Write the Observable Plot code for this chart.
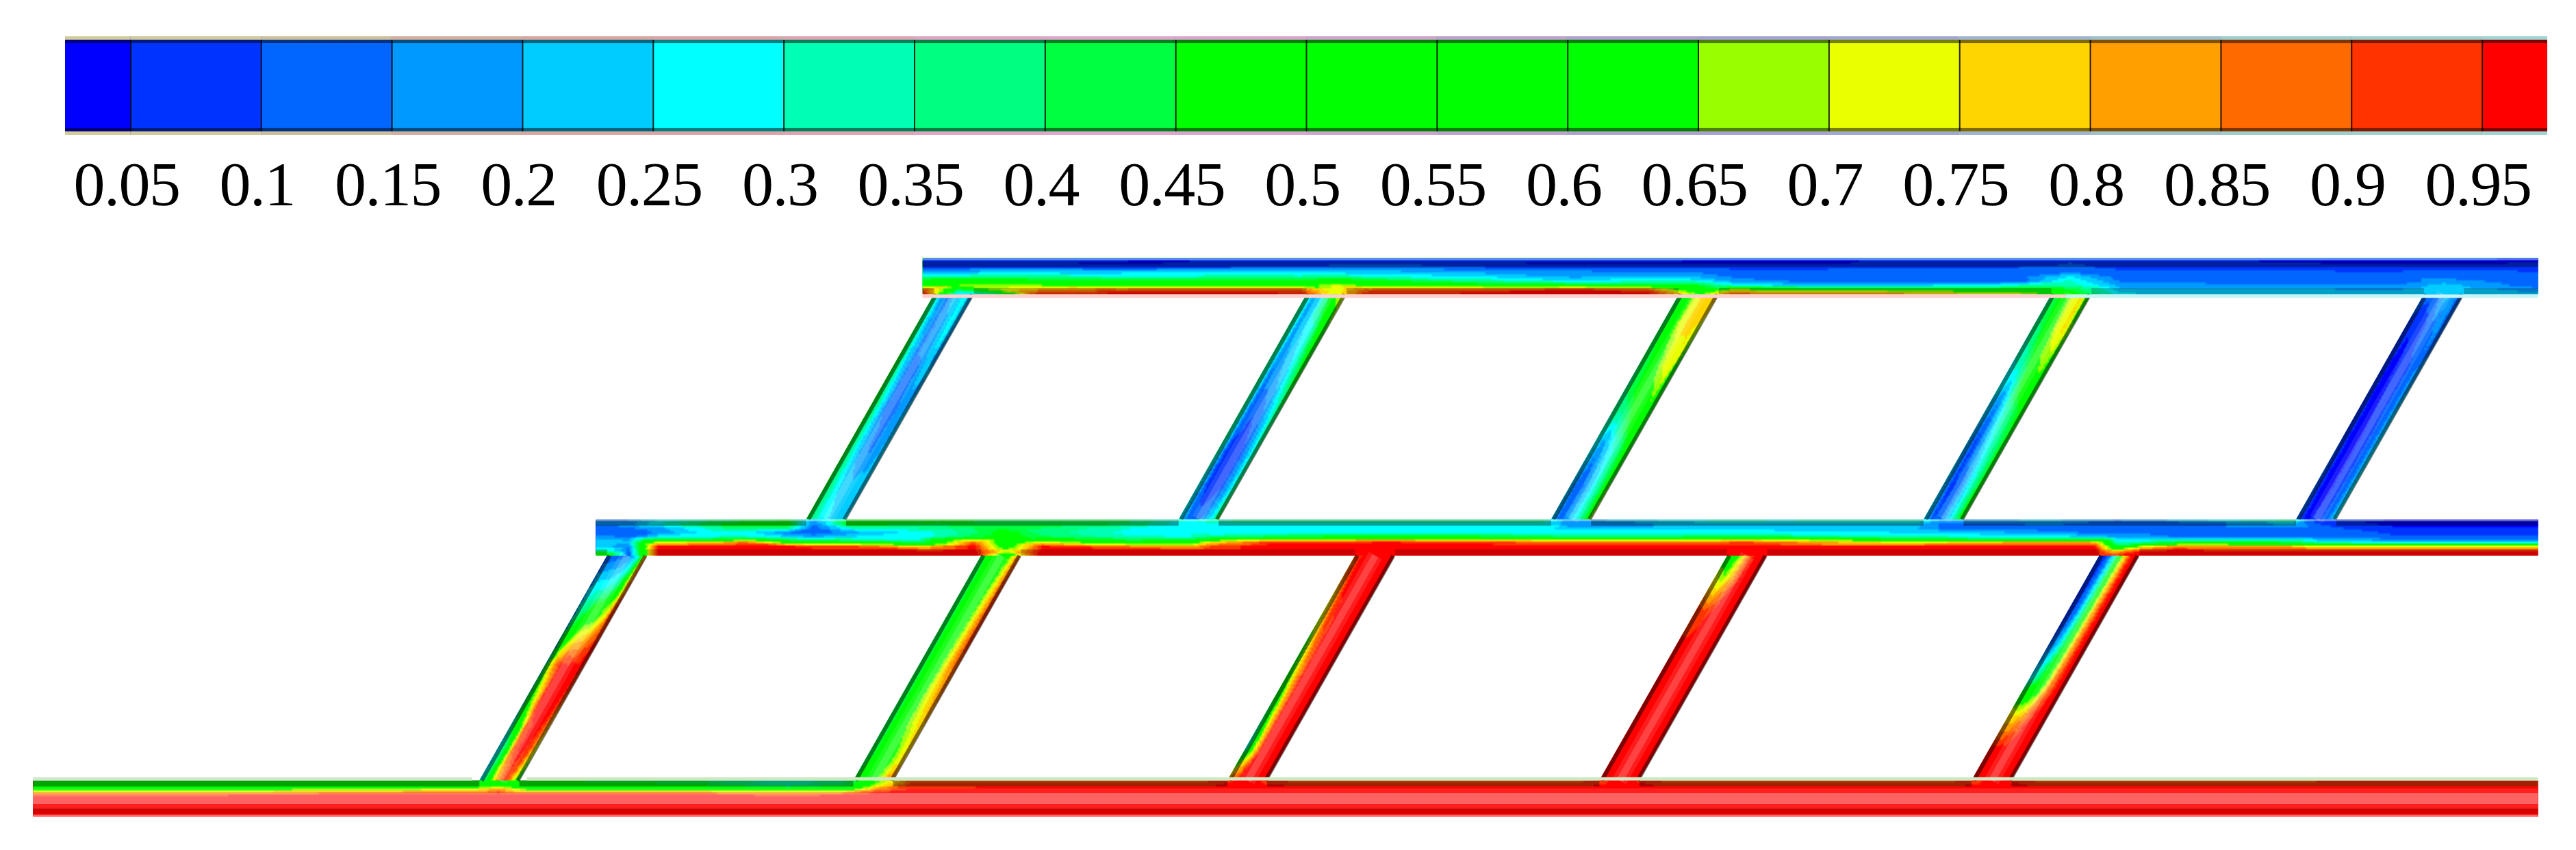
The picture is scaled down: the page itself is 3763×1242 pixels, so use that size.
<!DOCTYPE html>
<html><head><meta charset="utf-8">
<script src="https://cdn.jsdelivr.net/npm/d3@7"></script>
<script src="https://cdn.jsdelivr.net/npm/@observablehq/plot@0.6"></script>
<style>html,body{margin:0;padding:0;background:#fff}svg{display:block;max-width:none!important;background:#fff}svg text{letter-spacing:-1.5px}</style>
</head><body><script>
// ---- colour legend ----
const levels=[0.05,0.1,0.15,0.2,0.25,0.3,0.35,0.4,0.45,0.5,0.55,0.6,0.65,0.7,0.75,0.8,0.85,0.9,0.95];
const palette=["#0000ff","#0033ff","#0066ff","#0099ff","#00ccff","#00ffff","#00ffb4","#00ff80","#00ff40","#00ff00","#00ff00","#00ff00","#00ff00","#99ff00","#eaff00","#ffd500","#ffa000","#ff6a00","#ff3300","#ff0000"];
const ghost=["#d0cc9c","#cfc99c","#cdbf9e","#d2ae9e","#d8a6a0","#dca4a8","#dfa4b4","#dfa6c4","#dfa6cc","#d8a6cc","#cca4cc","#bca2cc","#aea2cc","#a4a2d0","#a0a8d0","#a0b4d0","#a0c0cc","#a0cccc","#a0d0cc","#a0d4d0"];
const legendMin=0.025, legendMax=0.975;

// ---- pipe model (units: pipe diameters / 10) ----
const modelX=[-9.05,700.5], modelY=[-9.245,160.94];
const pipeEnd=690;
const bottomPipe=[0,10,0], middlePipe=[72,82,155], topPipe=[144,154,245]; // y low, y high, x start
const lowerFeet=[123,226,329,431.5,534];
const upperFeet=[213,315.6,418.2,520.8,623.4];
const channelSkew=35.2, channelWidth=11;

// across-pipe profiles (top to bottom of the pipe), value x 100
const topX=[245,255,266,278,296,330,349,359,368,400,425,445,459,468,490,509,547,561,575,651,664,690];
const topP=[
[8,6,10,20,32,50,60,90,96],[8,6,10,20,32,55,65,40,20],[8,6,10,22,35,55,65,70,35],[8,5,10,22,35,50,65,82,95],
[8,4,8,22,30,50,62,88,97],[6,5,10,25,32,48,60,90,97],[8,5,12,22,32,45,58,90,96],[8,6,14,22,35,55,72,72,70],
[8,6,14,22,30,48,60,88,96],[7,5,10,18,24,34,52,92,97],[8,4,8,16,18,25,50,97,98],[7,4,8,15,18,30,48,90,97],
[6,4,8,14,18,28,45,50,65],[6,4,8,12,14,18,30,72,92],[6,4,8,12,12,12,20,60,90],[6,5,9,13,14,12,22,62,88],
[6,5,10,12,12,10,30,55,75],[8,10,12,14,25,30,34,45,50],[6,6,8,12,12,14,18,22,26],
[6,4,8,10,12,10,16,20,25],[6,4,8,12,12,18,22,24,25],[5,5,8,10,12,10,12,18,22]];
const midX=[155,157,164,172,187,195,208,215,225,244,259,268,278,302,319,325,340,360,370,415,423,462,472,519,526,557,568,574,581,591,622,629,651,690];
const midP=[
[14,16,12,12,18,25,22,35,65],[14,16,12,12,18,25,22,35,65],[14,18,14,10,14,22,16,12,10],[25,30,18,16,28,70,96,98,98],
[35,45,32,28,30,75,97,98,98],[40,48,40,28,32,85,98,98,98],[45,50,35,15,25,55,96,98,98],[20,15,12,12,20,50,92,98,98],
[45,50,30,18,26,45,92,98,98],[45,45,35,27,27,38,75,97,98],[45,45,40,38,45,88,97,98,98],[40,45,42,50,50,52,55,72,50],
[40,45,40,38,42,72,96,98,98],[40,40,30,28,32,50,85,97,98],[30,25,28,30,30,55,80,97,98],[35,30,25,25,38,75,92,98,98],
[38,28,27,28,44,92,98,98,98],[38,28,27,28,50,92,98,98,98],[38,28,28,30,55,95,98,98,98],[40,30,26,28,48,88,97,98,98],
[18,14,24,27,40,85,97,98,98],[32,24,24,27,45,88,97,98,98],[32,24,24,27,50,90,97,98,98],[36,22,20,25,32,70,96,98,98],
[20,14,14,25,32,72,96,98,98],[22,16,12,18,28,82,96,98,98],[20,12,10,14,26,78,95,98,98],[15,12,10,14,20,30,45,78,95],
[20,12,10,14,20,32,70,95,98],[25,10,10,12,15,42,85,97,98],[42,22,14,12,15,40,80,96,98],[8,10,12,14,15,30,70,95,98],
[5,3,6,9,11,20,72,96,98],[5,3,6,9,12,22,72,96,98]];
const botX=[0,121,128,136,180,208,225,232,242,322,335,348,425,437,450,527,540,553,690];
const botP=[
[46,50,55,90,97,98,98,98,98],[48,50,72,96,98,98,98,98,98],[55,60,85,97,98,98,98,98,98],[45,50,65,96,98,98,98,98,98],
[42,45,62,95,98,98,98,98,98],[30,32,55,92,98,98,98,98,98],[40,42,60,94,98,98,98,98,98],[60,68,85,97,98,98,98,98,98],
[88,92,97,98,98,98,98,98,98],[88,93,98,98,98,98,98,98,98],[97,98,98,98,98,98,98,98,98],[88,93,98,98,98,98,98,98,98],
[88,93,98,98,98,98,98,98,98],[97,98,98,98,98,98,98,98,98],[88,93,98,98,98,98,98,98,98],
[88,93,98,98,98,98,98,98,98],[97,98,98,98,98,98,98,98,98],[88,93,98,98,98,98,98,98,98],[90,94,98,98,98,98,98,98,98]];

// channels: rows from the upper end to the lower end, left wall to right wall, value x 100
const upperChannels=[
[[42,18,14,24,28,16],[45,22,14,18,28,16],[48,26,14,14,22,20],[48,30,14,12,18,22],[46,30,18,14,18,24],[46,32,24,22,22,24],[45,32,28,24,22,30]],
[[38,20,25,45,70,76],[40,18,25,30,48,65],[40,15,20,25,38,55],[40,12,12,16,28,45],[38,10,5,10,22,40],[30,10,6,10,22,42],[28,14,14,20,30,60]],
[[45,50,68,75,78,82],[40,50,70,76,76,65],[40,45,60,70,74,50],[38,40,45,55,62,50],[30,18,25,32,45,60],[22,10,18,28,42,70],[22,12,20,28,40,82]],
[[40,45,62,74,76,55],[38,42,58,72,76,62],[30,32,42,62,66,50],[25,15,28,38,45,52],[20,8,20,30,40,55],[22,8,12,24,38,60],[25,10,14,24,40,60]],
[[12,14,18,24,16,12],[10,6,8,14,16,12],[8,3,6,9,14,20],[8,3,5,9,14,25],[10,3,4,8,14,28],[12,3,4,8,14,28],[14,4,6,10,16,30]]];
const lowerChannels=[
[[6,4,8,14,28,92],[22,26,28,34,60,96],[35,45,65,72,85,96],[55,82,97,98,98,92],[45,68,96,98,96,80],[25,45,90,98,90,65],[25,50,78,92,70,45]],
[[45,47,48,50,72,92],[42,46,48,60,78,96],[42,46,50,65,82,96],[42,46,50,68,84,92],[42,46,52,70,80,88],[42,46,55,68,75,80],[42,46,50,60,72,80],[45,50,60,72,90,95]],
[[96,98,98,98,98,98],[86,97,98,99,98,98],[72,93,98,99,98,98],[62,85,97,99,98,98],[55,78,97,98,98,98],[40,72,96,98,98,98],[28,68,96,98,98,98],[88,96,98,99,98,98]],
[[40,45,70,92,98,98],[70,65,80,95,98,98],[92,90,96,98,98,98],[96,97,98,98,98,98],[96,98,98,98,98,98],[96,98,98,98,98,98],[96,98,98,98,98,98],[96,98,98,98,98,98]],
[[6,10,30,72,96,98],[5,12,35,75,96,98],[6,14,38,78,96,98],[10,22,45,80,96,98],[25,40,55,85,96,98],[72,75,85,96,98,98],[95,97,98,99,98,98],[95,98,99,99,98,98]]];

// ---- tables built from the lists above ----
function pipeSamples(pipe,xs,profiles){
  const [lo,hi]=pipe,out=[];
  xs.forEach((x,i)=>profiles[i].forEach((v,k)=>out.push({x,y:hi-(hi-lo)*k/(profiles[i].length-1),v:v/100})));
  return out;
}
const channelSamples=[];
function addChannels(lo,hi,feet,chs){
  const len=Math.hypot(channelSkew,hi-lo), px=(hi-lo)/len, py=-channelSkew/len, span=channelWidth*px;
  chs.forEach((rows,c)=>rows.forEach((row,r)=>{
    const s=r/(rows.length-1), y=hi+2.5-(hi-lo+5)*s;
    const cx=feet[c]+channelWidth/2+channelSkew*(y-lo)/(hi-lo);
    row.forEach((v,j)=>{const u=span*(j/(row.length-1)-0.5);channelSamples.push({x:cx+px*u,y:y+py*u,v:v/100});});
  }));
}
addChannels(middlePipe[1],topPipe[0],upperFeet,upperChannels);
addChannels(bottomPipe[1],middlePipe[0],lowerFeet,lowerChannels);

const rowsOf=[[middlePipe[1],topPipe[0],upperFeet],[bottomPipe[1],middlePipe[0],lowerFeet]];
const links=[];
for(const [lo,hi,feet] of rowsOf) for(const f of feet) links.push({lo,hi,f});
const wall=(off)=>({x1:d=>d.f+off,x2:d=>d.f+channelSkew+off,y1:d=>d.lo,y2:d=>d.hi});

// white areas around the pipes
const holes=[];
let hid=0;
for(const [lo,hi,feet] of rowsOf){
  const edges=[modelX[0],...feet.flatMap(f=>[f,f+channelWidth]),modelX[1]];
  const k=channelSkew/(hi-lo), e=0.3;
  for(let i=0;i<edges.length;i+=2){
    const a=edges[i],b=edges[i+1],first=i===0,last=i===edges.length-2;
    holes.push({id:hid,y:lo-e,x1:first?a:a-k*e,x2:last?b:b-k*e});
    holes.push({id:hid,y:hi+e,x1:first?a:a+channelSkew+k*e,x2:last?b:b+channelSkew+k*e});
    hid++;
  }
}
const e=0.4;
const blocks=[
 {x1:modelX[0],x2:modelX[1],y1:topPipe[1],y2:modelY[1]},
 {x1:modelX[0],x2:modelX[1],y1:modelY[0],y2:bottomPipe[0]},
 {x1:modelX[0],x2:topPipe[2],y1:topPipe[0]-e,y2:topPipe[1]+e},
 {x1:modelX[0],x2:middlePipe[2],y1:middlePipe[0]-e,y2:middlePipe[1]+e},
 {x1:modelX[0],x2:bottomPipe[2],y1:bottomPipe[0]-e,y2:bottomPipe[1]+e},
 {x1:pipeEnd,x2:modelX[1],y1:modelY[0],y2:modelY[1]}];
const pipeRaster=(pipe,xs,ps)=>Plot.raster(pipeSamples(pipe,xs,ps),{x:"x",y:"y",fill:"v",interpolate:"barycentric",pixelSize:3,x1:pipe[2],x2:pipeEnd,y1:pipe[0],y2:pipe[1]});

// dark wall bands along each pipe side, broken at the channel mouths
function bands(y,start,feet,shift,o){
  const out=[];let a=start;
  for(const f of feet){out.push({a,b:f+shift,y,o});a=f+shift+channelWidth;}
  out.push({a,b:pipeEnd,y,o});return out;
}
const darkBands=[
 ...bands(topPipe[1]-1.6,topPipe[2],[],0,0.36),
 ...bands(topPipe[0]+0.9,topPipe[2],upperFeet,channelSkew,0.22),
 ...bands(middlePipe[1]-0.9,middlePipe[2],upperFeet,0,0.36),
 ...bands(middlePipe[0]+0.9,middlePipe[2],lowerFeet,channelSkew,0.2),
 ...bands(bottomPipe[1]-0.8,bottomPipe[2],lowerFeet,0,0.36),
 ...bands(bottomPipe[0]+1.6,bottomPipe[2],[],0,0.16)];
const edgeSpan=[{y:topPipe[1]-0.3,a:topPipe[2]},{y:middlePipe[1]-0.2,a:middlePipe[2]},{y:bottomPipe[0]+0.3,a:bottomPipe[2]}];
const pale=[
 {y:topPipe[0]-0.45,a:topPipe[2],b:560,c:"#ffd0d0"},
 {y:topPipe[0]-0.45,a:560,b:pipeEnd,c:"#c4f4f6"},
 {y:bottomPipe[1]+0.45,a:bottomPipe[2],b:121,c:"#cfe8cf"},
 {y:bottomPipe[1]+0.45,a:136,b:pipeEnd,c:"#cfe8c4"}];

const colorScale={type:"threshold",domain:levels,range:palette};

// ---- legend ----
const cells=palette.map((c,i)=>({a:i?levels[i-1]:legendMin,b:i<levels.length?levels[i]:legendMax,v:i?levels[i-1]+0.01:0.01,g:ghost[i]}));
const legend=Plot.plot({
  width:3763,height:340,marginLeft:95,marginRight:42,marginTop:53,marginBottom:143,
  style:{fontFamily:"'Liberation Serif',serif",background:"#fff"},
  x:{domain:[legendMin,legendMax]},y:{domain:[0,1],axis:null},color:colorScale,
  marks:[
    Plot.rectY(cells,{x1:"a",x2:"b",y1:0,y2:1,fill:"v",inset:0}),
    Plot.rectY(cells,{x1:"a",x2:"b",y1:0.965,y2:1,fill:"g"}),
    Plot.rectY(cells,{x1:"a",x2:"b",y1:0,y2:0.035,fill:"g"}),
    Plot.rectY(cells,{x1:"a",x2:"b",y1:0.93,y2:0.965,fill:"black",fillOpacity:0.5}),
    Plot.rectY(cells,{x1:"a",x2:"b",y1:0.035,y2:0.07,fill:"black",fillOpacity:0.5}),
    Plot.ruleX(levels,{y1:0.035,y2:0.965,stroke:"black",strokeWidth:2,strokeOpacity:0.85}),
    Plot.axisX(levels,{anchor:"bottom",tickSize:0,tickPadding:37,fontSize:92,dx:-6,label:null,tickFormat:d=>String(d),fill:"#000"})
  ]});

// ---- field ----
const field=Plot.plot({
  width:3763,height:902,margin:0,
  style:{background:"#fff"},
  x:{domain:modelX,axis:null},y:{domain:modelY,axis:null},color:colorScale,
  marks:[
    Plot.raster(channelSamples,{x:"x",y:"y",fill:"v",interpolate:"barycentric",pixelSize:3}),
    Plot.areaX(holes,{x1:"x1",x2:"x2",y:"y",z:"id",fill:"white"}),
    Plot.rect(blocks,{x1:"x1",x2:"x2",y1:"y1",y2:"y2",fill:"white"}),
    pipeRaster(topPipe,topX,topP),
    pipeRaster(middlePipe,midX,midP),
    pipeRaster(bottomPipe,botX,botP),
    // tube shading
    Plot.ruleY([bottomPipe[1]/2],{x1:bottomPipe[2],x2:pipeEnd,stroke:"white",strokeOpacity:0.3,strokeWidth:16}),
    Plot.ruleY([bottomPipe[1]/2],{x1:bottomPipe[2],x2:pipeEnd,stroke:"white",strokeOpacity:0.12,strokeWidth:30}),
    Plot.link(links,{...wall(channelWidth/2),stroke:"white",strokeOpacity:0.11,strokeWidth:22}),
    Plot.link(links,{...wall(channelWidth/2),stroke:"white",strokeOpacity:0.17,strokeWidth:10}),
    Plot.link(links,{...wall(0.55),stroke:"black",strokeOpacity:0.5,strokeWidth:6}),
    Plot.link(links,{...wall(channelWidth-0.55),stroke:"black",strokeOpacity:0.5,strokeWidth:6}),
    Plot.ruleY(darkBands,{y:"y",x1:"a",x2:"b",stroke:"black",strokeOpacity:"o",strokeWidth:9}),
    Plot.ruleY(edgeSpan,{y:"y",x1:"a",x2:pipeEnd,stroke:"white",strokeOpacity:0.4,strokeWidth:3}),
    Plot.ruleY(pale,{y:"y",x1:"a",x2:"b",stroke:"c",strokeWidth:5})
  ]});
document.body.append(legend,field);
</script></body></html>
